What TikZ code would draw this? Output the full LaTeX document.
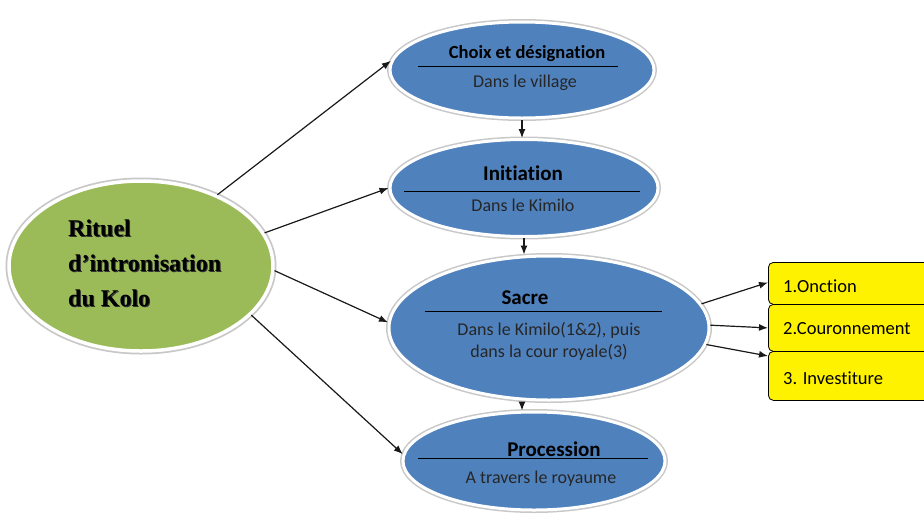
\documentclass[tikz,border=0pt]{standalone}
\usepackage{fontspec}
\setmainfont{Carlito}[Ligatures={NoCommon}]
\newfontfamily\ritfont{Liberation Serif}
\usetikzlibrary{shapes.geometric,arrows.meta}
\definecolor{blueE}{RGB}{79,129,189}
\definecolor{greenE}{RGB}{155,187,89}
\definecolor{rimgray}{RGB}{200,200,200}
\begin{document}
\begin{tikzpicture}[x=1pt,y=-1pt,
  oval/.style={ellipse, fill=blueE, draw=white, line width=3pt,
    preaction={draw=rimgray, line width=6pt}, inner sep=0pt},
  ttl/.style={font=\fontsize{21}{24}\selectfont\bfseries, text=black, inner sep=0pt},
  sub/.style={font=\fontsize{18}{22}\selectfont, text=black!85, inner sep=0pt, align=center},
  rule/.style={draw=black, line width=1pt},
  arr/.style={draw=black!90, line width=1.2pt, -{Latex[length=9pt,width=7pt]}},
  ybox/.style={draw=black, line width=0.8pt, fill=yellow, rounded corners=5pt,
    minimum width=175pt, anchor=north west, inner sep=0pt},
  ytxt/.style={font=\fontsize{18.5}{20}\selectfont, text=black, anchor=west, inner sep=0pt},
  ritxt/.style={anchor=west, align=left, inner sep=0pt,
    font=\ritfont\bfseries\fontsize{24}{35}\selectfont}]
\useasboundingbox (0,0) rectangle (924,520);
\clip (0,0) rectangle (924,520);
\fill[white] (0,0) rectangle (924,520);

% main green ellipse
\node[ellipse, fill=greenE, draw=white, line width=3.5pt, preaction={draw=rimgray, line width=7pt},
  minimum width=264pt, minimum height=170pt] (g) at (141,266) {};
\node[ritxt, text=black!80] (gs) at (69,264) {Rituel\\d’intronisation\\du Kolo};
\node[ritxt, text=black] (gt) at (68,263) {Rituel\\d’intronisation\\du Kolo};

% blue ellipses
\node[oval, minimum width=264pt, minimum height=96pt] (e1) at (522,70) {};
\node[oval, minimum width=268pt, minimum height=97pt] (e2) at (524,188) {};
\node[oval, minimum width=320pt, minimum height=144pt] (e3) at (549,328) {};
\node[oval, minimum width=262pt, minimum height=98pt] (e4) at (534,461) {};

% texts in ellipses
\node[ttl, font=\fontsize{18.5}{22}\selectfont\bfseries] (t1) at (527,54) {Choix et désignation};
\draw[rule] (418,66) -- (618,66);
\node[sub] (s1) at (525,83) {Dans le village};

\node[ttl] (t2) at (523,173) {Initiation};
\draw[rule] (404,191) -- (640,191);
\node[sub] (s2) at (523,205) {Dans le Kimilo};

\node[ttl] (t3) at (525,298) {Sacre};
\draw[rule] (425,311) -- (662,311);
\node[sub] (s3) at (549,341) {Dans le Kimilo(1\&2), puis\\dans la cour royale(3)};

\node[ttl] (t4) at (554,449) {Procession};
\draw[rule] (418,458) -- (648,458);
\node[sub] (s4) at (541,479) {A travers le royaume};

% yellow boxes
\node[ybox, minimum height=42pt] (b1) at (768,262) {};
\node[ybox, minimum height=47pt] (b2) at (768,304) {};
\node[ybox, minimum height=49pt] (b3) at (768,351) {};
\node[ytxt] (y1) at (783,286) {1.Onction};
\node[ytxt] (y2) at (783,329) {2.Couronnement};
\node[ytxt] (y3) at (783,378) {3. Investiture};

% connectors from the green ellipse
\draw[arr] (g.43) -- (e1.176);
\draw[arr] (g.15) -- (e2.180);
\draw[arr] (g.-2) -- (e3.178);
\draw[arr] (g.-24) -- (e4.177);

% vertical connectors
\draw[arr] (e1.south) -- (e1.south |- e2.north);
\draw[arr] (e2.south) -- (e2.south |- e3.north);
\path (e3.south) ++(-27,0) coordinate (e3s);
\draw[arr] (e3s) -- (e3s |- e4.north);

% to yellow boxes
\path (b1.west) ++(0,-1) coordinate (b1w);
\path (b3.north west) ++(0,5) coordinate (b3w);
\draw[arr] (e3.9) -- (b1w);
\draw[arr] (e3.1) -- (b2.west);
\draw[arr] (e3.-6) -- (b3w);
\end{tikzpicture}
\end{document}
